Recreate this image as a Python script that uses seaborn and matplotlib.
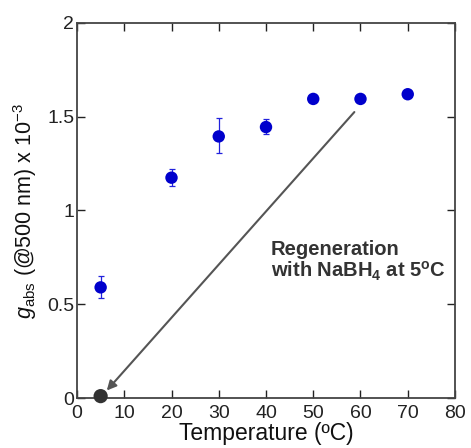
import matplotlib
matplotlib.use("Agg")
import matplotlib.pyplot as plt
import seaborn as sns
import pandas as pd

# data
temperature = [5, 20, 30, 40, 50, 60, 70]
g_abs = [0.59, 1.175, 1.395, 1.445, 1.595, 1.595, 1.62]
err_low = [0.055, 0.045, 0.09, 0.035, 0.01, 0.01, 0.01]
err_high = [0.06, 0.045, 0.10, 0.045, 0.01, 0.01, 0.01]
regen_temp = [5]
regen_g = [0.01]

df = pd.DataFrame({"Temperature": temperature, "g": g_abs})
df_regen = pd.DataFrame({"Temperature": regen_temp, "g": regen_g})

sns.set_style("ticks")
plt.rcParams["font.family"] = ["Liberation Sans", "DejaVu Sans"]
plt.rcParams["mathtext.fontset"] = "custom"
plt.rcParams["mathtext.rm"] = "Liberation Sans"
plt.rcParams["mathtext.it"] = "Liberation Sans:italic"
plt.rcParams["mathtext.bf"] = "Liberation Sans:bold"

fig = plt.figure(figsize=(4.71, 4.48), dpi=100)
ax = fig.add_axes([0.1635, 0.1116, 0.8025, 0.8371])

ax.errorbar(temperature, g_abs, yerr=[err_low, err_high], fmt="none",
            ecolor="#2222dd", elinewidth=0.9, capsize=2.5, capthick=0.9, zorder=2)
sns.scatterplot(data=df, x="Temperature", y="g", ax=ax, color="#0000cc",
                s=80, edgecolor="none", zorder=3)
sns.scatterplot(data=df_regen, x="Temperature", y="g", ax=ax, color="#333333",
                s=105, edgecolor="none", zorder=3, clip_on=False)

ax.annotate("", xy=(6.3, 0.04), xytext=(58.7, 1.525),
            arrowprops=dict(arrowstyle="-|>", color="#555555", lw=1.5,
                            mutation_scale=14, shrinkA=0, shrinkB=0))
ax.text(41, 0.845, "Regeneration\nwith NaBH$_\\mathbf{4}$ at 5$^\\mathbf{o}$C",
        fontsize=14.5, fontweight="bold", color="#333333", va="top", ha="left",
        linespacing=1.05)

ax.set_xlim(0, 80)
ax.set_ylim(0, 2)
ax.set_xticks(range(0, 81, 10))
ax.set_yticks([0, 0.5, 1, 1.5, 2])
ax.set_yticklabels(["0", "0.5", "1", "1.5", "2"])
ax.tick_params(direction="in", top=True, right=True, length=6, width=1,
               labelsize=14, colors="#222222")
ax.tick_params(axis="x", pad=5)
ax.tick_params(axis="y", pad=2)
for s in ax.spines.values():
    s.set_linewidth(1.3)
    s.set_color("#444444")

ax.set_xlabel("Temperature (ºC)", fontsize=16.5, labelpad=0, color="#111111")
ax.set_ylabel("$g$$_{\\mathrm{abs}}$ (@500 nm) x 10$^{-3}$", fontsize=15.5,
              labelpad=6, color="#111111")

fig.savefig("out.png", dpi=100)
